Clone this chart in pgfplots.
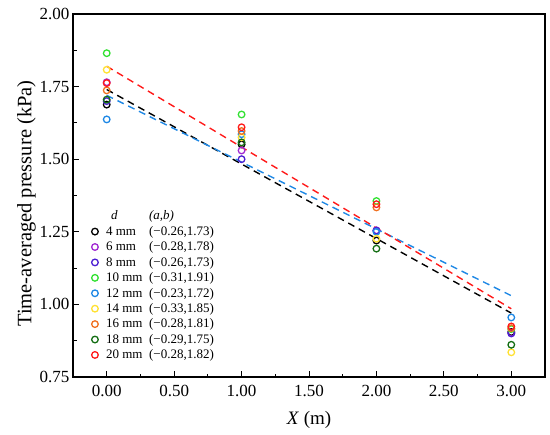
\documentclass[border=0pt]{standalone}
\usepackage{fontspec}
\setmainfont{Liberation Serif}
\usepackage{pgfplots}
\pgfplotsset{compat=1.18}
\definecolor{c4}{RGB}{0,0,0}
\definecolor{c6}{RGB}{160,40,210}
\definecolor{c8}{RGB}{75,30,210}
\definecolor{c10}{RGB}{50,225,50}
\definecolor{c12}{RGB}{30,136,229}
\definecolor{c14}{RGB}{255,225,50}
\definecolor{c16}{RGB}{240,112,32}
\definecolor{c18}{RGB}{20,110,20}
\definecolor{c20}{RGB}{255,26,26}
\begin{document}
\begin{tikzpicture}
\begin{axis}[
  scale only axis, width=472pt, height=363pt,
  xmin=-0.25, xmax=3.25, ymin=0.75, ymax=2.0,
  xtick={0,0.5,1,1.5,2,2.5,3}, ytick={0.75,1,1.25,1.5,1.75,2},
  minor x tick num=1, minor y tick num=1,
  xtick pos=bottom, ytick pos=left, tick align=inside,
  major tick length=6pt, minor tick length=3.5pt,
  every tick/.style={line width=1pt, black},
  axis line style={line width=1.2pt},
  /pgf/number format/.cd, fixed, fixed zerofill, precision=2, assume math mode=true,
  /pgfplots/.cd,
  tick label style={font=\fontsize{17}{20}\selectfont},
  xticklabel style={yshift=-5pt},
  xlabel={\textit{X} (m)}, ylabel={Time-averaged pressure (kPa)},
  xlabel style={font=\fontsize{19}{22}\selectfont, yshift=-7pt},
  ylabel style={font=\fontsize{20.5}{23}\selectfont, yshift=-3pt, xshift=-8pt},
  legend style={draw=none, fill=none, at={(rel axis cs:0.032,0.465)}, anchor=north west,
    font=\fontsize{13}{15}\selectfont, row sep=1.9pt, inner sep=1pt,
    nodes={inner sep=1.5pt}},
  legend cell align=left,
  legend image code/.code={\draw[mark repeat=2,mark phase=2,#1] plot coordinates {(0pt,0pt) (5pt,0pt) (14pt,0pt)}; \path (0pt,0pt) (14pt,0pt);},
  every axis plot/.append style={mark=o, mark size=3.3pt, line width=1.3pt},
]
\addlegendimage{empty legend}
\addlegendentry{\hspace{5pt}\makebox[38pt][l]{\textit{d}}\textit{(a,b)}}
\addplot[only marks, c4] coordinates {(0,1.688) (1,1.551) (2,1.22) (3,0.905)};
\addlegendentry{\makebox[43pt][l]{4 mm}(−0.26,1.73)}
\addplot[only marks, c6] coordinates {(0,1.765) (1,1.53) (2,1.255) (3,0.902)};
\addlegendentry{\makebox[43pt][l]{6 mm}(−0.28,1.78)}
\addplot[only marks, c8] coordinates {(0,1.70) (1,1.50) (2,1.254) (3,0.900)};
\addlegendentry{\makebox[43pt][l]{8 mm}(−0.26,1.73)}
\addplot[only marks, c10] coordinates {(0,1.865) (1,1.654) (2,1.356) (3,0.915)};
\addlegendentry{\makebox[43pt][l]{10 mm}(−0.31,1.91)}
\addplot[only marks, c12] coordinates {(0,1.637) (1,1.586) (2,1.25) (3,0.955)};
\addlegendentry{\makebox[43pt][l]{12 mm}(−0.23,1.72)}
\addplot[only marks, c14] coordinates {(0,1.808) (1,1.575) (2,1.226) (3,0.835)};
\addlegendentry{\makebox[43pt][l]{14 mm}(−0.33,1.85)}
\addplot[only marks, c16] coordinates {(0,1.737) (1,1.597) (2,1.334) (3,0.918)};
\addlegendentry{\makebox[43pt][l]{16 mm}(−0.28,1.81)}
\addplot[only marks, c18] coordinates {(0,1.705) (1,1.558) (2,1.192) (3,0.861)};
\addlegendentry{\makebox[43pt][l]{18 mm}(−0.29,1.75)}
\addplot[only marks, c20] coordinates {(0,1.762) (1,1.61) (2,1.345) (3,0.924)};
\addlegendentry{\makebox[43pt][l]{20 mm}(−0.28,1.82)}
\addplot[c4, mark=none, dash pattern=on 7pt off 5pt, line width=1.4pt, forget plot] coordinates {(0,1.74) (3,0.97)};
\addplot[c12, mark=none, dash pattern=on 7pt off 5pt, line width=1.4pt, forget plot] coordinates {(0,1.72) (3,1.03)};
\addplot[c20, mark=none, dash pattern=on 7pt off 5pt, line width=1.4pt, forget plot] coordinates {(0,1.82) (3,0.985)};
\end{axis}
\pgfresetboundingbox
\path (current axis.south west) ++(-73pt,-57pt) coordinate (bl);
\path (current axis.north east) ++(5pt,14pt) coordinate (tr);
\useasboundingbox (bl) rectangle (tr);
\end{tikzpicture}
\end{document}
